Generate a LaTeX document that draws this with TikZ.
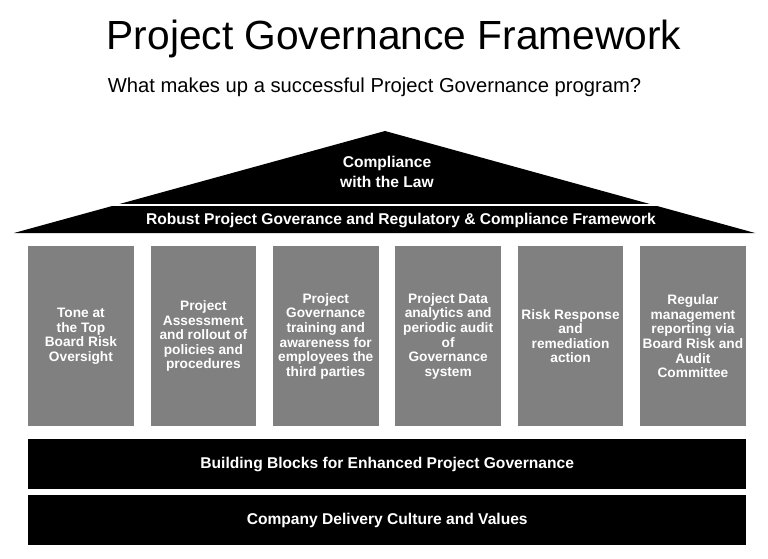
\documentclass[tikz,border=0pt]{standalone}
\usepackage{fontspec}
\setmainfont{Liberation Sans}
\definecolor{pillargray}{HTML}{808080}
\begin{document}
\begin{tikzpicture}[x=1pt,y=-1pt,
  pillarbox/.style={fill=pillargray, draw=none, minimum width=105.5pt, minimum height=180pt,
    anchor=north west, inner sep=0pt, text=white, align=center,
    font=\bfseries\fontsize{13.7}{14.6}\selectfont},
  basebar/.style={fill=black, draw=none, minimum width=718pt, minimum height=50pt,
    anchor=north west, inner sep=0pt, text=white,
    font=\bfseries\fontsize{15.6}{18}\selectfont},
  rooftext/.style={text=white, align=center, inner sep=0pt,
    font=\bfseries\fontsize{15.6}{20}\selectfont}]
\useasboundingbox (0,0) rectangle (768,559);
% title
\node[anchor=base, font=\fontsize{40.7}{46}\selectfont] (title) at (394,50) {Project Governance Framework};
\node[anchor=base, font=\fontsize{20.2}{24}\selectfont] (subtitle) at (374.5,93) {What makes up a successful Project Governance program?};
% roof
\coordinate (apex) at (385,131);
\coordinate (roofR) at (755,233);
\coordinate (roofL) at (14,233);
\fill[black] (apex) -- (roofR) -- (roofL) -- cycle;
\coordinate (lineL) at (100,204.5);
\coordinate (lineR) at (680,204.5);
\draw[white, line width=2pt] (lineL) -- (lineR);
\node[rooftext] (law) at (387,172) {Compliance\\with the Law};
\node[rooftext] (robust) at (401,220) {Robust Project Goverance and Regulatory \& Compliance Framework};
% pillars
\node[pillarbox] (p1) at (28,246) {Tone at\\the Top\\Board Risk\\Oversight};
\node[pillarbox] (p2) at (150.4,246) {Project\\Assessment\\and rollout of\\policies and\\procedures};
\node[pillarbox] (p3) at (272.8,246) {Project\\Governance\\training and\\awareness for\\employees the\\third parties};
\node[pillarbox] (p4) at (395.2,246) {Project Data\\analytics and\\periodic audit\\of\\Governance\\system};
\node[pillarbox] (p5) at (517.6,246) {Risk Response\\and\\remediation\\action};
\node[pillarbox] (p6) at (640,246) {Regular\\management\\reporting via\\Board Risk and\\Audit\\Committee};
% base bars
\node[basebar] (blocks) at (28,439) {Building Blocks for Enhanced Project Governance};
\node[basebar] (culture) at (28,495) {Company Delivery Culture and Values};
\end{tikzpicture}
\end{document}
